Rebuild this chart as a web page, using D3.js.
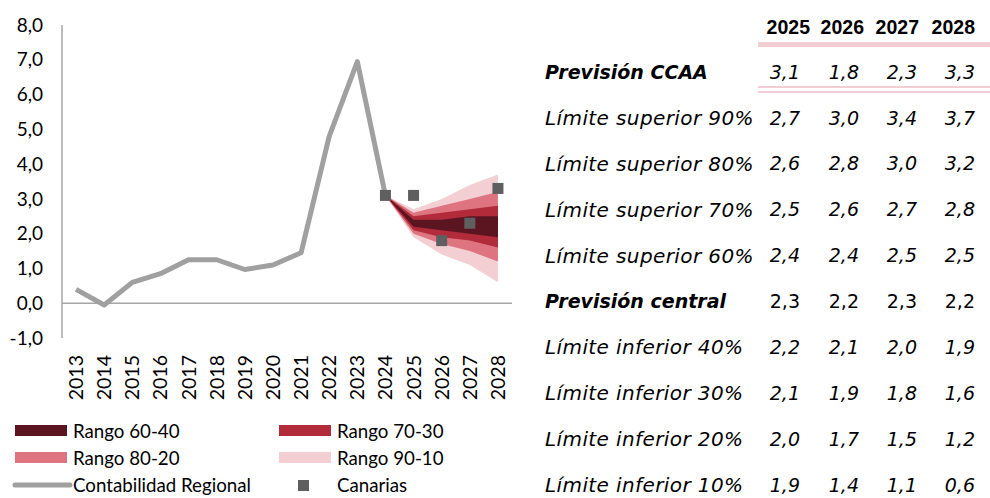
<!DOCTYPE html>
<html>
<head>
<meta charset="utf-8">
<script src="https://cdn.jsdelivr.net/npm/d3@7"></script>
<style>
  body { margin: 0; background: #fff; }
  svg { display: block; }
</style>
</head>
<body>
<div id="chart"></div>
<script>
// historic series
const years = ['2013','2014','2015','2016','2017','2018','2019','2020','2021','2022','2023','2024','2025','2026','2027','2028'];
const histYears = ['2013','2014','2015','2016','2017','2018','2019','2020','2021','2022','2023','2024'];
const contabilidadRegional = [0.4, -0.05, 0.6, 0.85, 1.25, 1.25, 0.97, 1.1, 1.45, 4.8, 6.95, 3.1];

// Canarias points (2024 actual + forecast)
const canariasYears = ['2024','2025','2026','2027','2028'];
const canarias = [3.1, 3.1, 1.8, 2.3, 3.3];

// fan chart (2024 = anchor value)
const fanYears = ['2024','2025','2026','2027','2028'];
const sup90 = [3.1, 2.7, 3.0, 3.4, 3.7];
const sup80 = [3.1, 2.6, 2.8, 3.0, 3.2];
const sup70 = [3.1, 2.5, 2.6, 2.7, 2.8];
const sup60 = [3.1, 2.4, 2.4, 2.5, 2.5];
const central = [3.1, 2.3, 2.2, 2.3, 2.2];
const inf40 = [3.1, 2.2, 2.1, 2.0, 1.9];
const inf30 = [3.1, 2.1, 1.9, 1.8, 1.6];
const inf20 = [3.1, 2.0, 1.7, 1.5, 1.2];
const inf10 = [3.1, 1.9, 1.4, 1.1, 0.6];

const yTicks = [-1, 0, 1, 2, 3, 4, 5, 6, 7, 8];

// table
const tableYears = ['2025','2026','2027','2028'];
const prevCCAA = [3.1, 1.8, 2.3, 3.3];
const tableRows = [
  { label: 'Límite superior 90%', values: sup90.slice(1) },
  { label: 'Límite superior 80%', values: sup80.slice(1) },
  { label: 'Límite superior 70%', values: sup70.slice(1) },
  { label: 'Límite superior 60%', values: sup60.slice(1) },
  { label: 'Previsión central', values: central.slice(1), bold: true },
  { label: 'Límite inferior 40%', values: inf40.slice(1) },
  { label: 'Límite inferior 30%', values: inf30.slice(1) },
  { label: 'Límite inferior 20%', values: inf20.slice(1) },
  { label: 'Límite inferior 10%', values: inf10.slice(1) }
];

const bandColors = {
  '90-10': '#f3cfd4',
  '80-20': '#de7480',
  '70-30': '#b12b3b',
  '60-40': '#5b1520'
};
const lineColor = '#a0a0a0';
const pointColor = '#5f5f5f';
const axisColor = '#a6a6a6';
const pink = '#f2cdd3';

const W = 990, H = 498;
const svg = d3.select('#chart').append('svg')
  .attr('width', W)
  .attr('height', H);

const fmt = v => d3.format('.1f')(v).replace('.', ',').replace('\u2212', '-');

// scales
const x = d3.scaleBand().domain(years).range([62, 512]);
const xc = d => x(d) + x.bandwidth() / 2;
const y = d3.scaleLinear().domain([-1, 8]).range([338, 25]);

const chartFont = 'Lato, "Open Sans", sans-serif';

// y axis line
svg.append('line')
  .attr('x1', 62).attr('x2', 62)
  .attr('y1', y(8)).attr('y2', y(-1))
  .attr('stroke', axisColor).attr('stroke-width', 1.5);

// y tick labels
svg.append('g').selectAll('text')
  .data(yTicks)
  .enter().append('text')
  .attr('x', 43)
  .attr('y', d => y(d))
  .attr('dy', '0.35em')
  .attr('text-anchor', 'end')
  .attr('font-family', chartFont)
  .attr('font-size', 19)
  .attr('fill', '#000')
  .text(d => fmt(d));

// x axis at zero
svg.append('line')
  .attr('x1', 62).attr('x2', 512)
  .attr('y1', y(0)).attr('y2', y(0))
  .attr('stroke', axisColor).attr('stroke-width', 1.5);

// x tick labels, rotated
svg.append('g').selectAll('text')
  .data(years)
  .enter().append('text')
  .attr('transform', d => `translate(${xc(d) + 7},355) rotate(-90)`)
  .attr('text-anchor', 'end')
  .attr('font-family', chartFont)
  .attr('font-size', 19.5)
  .attr('fill', '#000')
  .text(d => d);

// fan bands
const bands = [
  { key: '90-10', hi: sup90, lo: inf10 },
  { key: '80-20', hi: sup80, lo: inf20 },
  { key: '70-30', hi: sup70, lo: inf30 },
  { key: '60-40', hi: sup60, lo: inf40 }
];
const area = d3.area()
  .x(d => xc(d.year))
  .y0(d => y(d.lo))
  .y1(d => y(d.hi));

svg.append('g').selectAll('path')
  .data(bands)
  .enter().append('path')
  .attr('d', b => area(fanYears.map((yr, i) => ({ year: yr, hi: b.hi[i], lo: b.lo[i] }))))
  .attr('fill', b => bandColors[b.key]);

// historic line
const line = d3.line()
  .x(d => xc(d.year))
  .y(d => y(d.v));
svg.append('path')
  .datum(histYears.map((yr, i) => ({ year: yr, v: contabilidadRegional[i] })))
  .attr('d', line)
  .attr('fill', 'none')
  .attr('stroke', lineColor)
  .attr('stroke-width', 5)
  .attr('stroke-linejoin', 'round');

// Canarias points
const ps = 11;
svg.append('g').selectAll('rect')
  .data(canariasYears.map((yr, i) => ({ year: yr, v: canarias[i] })))
  .enter().append('rect')
  .attr('x', d => xc(d.year) - ps / 2)
  .attr('y', d => y(d.v) - ps / 2)
  .attr('width', ps).attr('height', ps)
  .attr('fill', pointColor);

// legend
const legendItems = [
  { label: 'Rango 60-40', type: 'band', color: bandColors['60-40'], col: 0, row: 0 },
  { label: 'Rango 70-30', type: 'band', color: bandColors['70-30'], col: 1, row: 0 },
  { label: 'Rango 80-20', type: 'band', color: bandColors['80-20'], col: 0, row: 1 },
  { label: 'Rango 90-10', type: 'band', color: bandColors['90-10'], col: 1, row: 1 },
  { label: 'Contabilidad Regional', type: 'line', color: lineColor, col: 0, row: 2 },
  { label: 'Canarias', type: 'point', color: pointColor, col: 1, row: 2 }
];
const legendX = [15, 279];
const legendY = [431, 458, 485];
const lg = svg.append('g').selectAll('g')
  .data(legendItems)
  .enter().append('g')
  .attr('transform', d => `translate(${legendX[d.col]},${legendY[d.row]})`);

lg.filter(d => d.type === 'band').append('rect')
  .attr('x', 0).attr('y', -6).attr('width', 52).attr('height', 11)
  .attr('fill', d => d.color);
lg.filter(d => d.type === 'line').append('line')
  .attr('x1', 0).attr('x2', 55).attr('y1', 0).attr('y2', 0)
  .attr('stroke', d => d.color).attr('stroke-width', 5)
  .attr('stroke-linecap', 'round');
lg.filter(d => d.type === 'point').append('rect')
  .attr('x', 19).attr('y', -5).attr('width', 11).attr('height', 11)
  .attr('fill', d => d.color);
lg.append('text')
  .attr('x', 58)
  .attr('y', 0)
  .attr('dy', '0.35em')
  .attr('font-family', chartFont)
  .attr('font-size', 18.7)
  .attr('fill', '#000')
  .text(d => d.label);

// table
const tableFont = '"DejaVu Sans", sans-serif';
const colRight = [810, 864, 919, 975];
const valRight = [800, 859, 917, 975];
const labelX = 545;

svg.append('g').selectAll('text')
  .data(tableYears)
  .enter().append('text')
  .attr('x', (d, i) => colRight[i])
  .attr('y', 27)
  .attr('dy', '0.35em')
  .attr('text-anchor', 'end')
  .attr('font-family', '"Liberation Sans", Arial, sans-serif')
  .attr('font-weight', 'bold')
  .attr('font-size', 19.5)
  .attr('fill', '#000')
  .text(d => d);

svg.append('rect')
  .attr('x', 758).attr('y', 42).attr('width', W - 758).attr('height', 5)
  .attr('fill', pink);

svg.append('rect')
  .attr('x', 758).attr('y', 86).attr('width', W - 758).attr('height', 2)
  .attr('fill', pink);
svg.append('rect')
  .attr('x', 758).attr('y', 91).attr('width', W - 758).attr('height', 2)
  .attr('fill', pink);

const allRows = [{ label: 'Previsión CCAA', values: prevCCAA, bold: true }].concat(tableRows);
const rowY = d3.scaleLinear().domain([0, allRows.length - 1]).range([72, 485]);

const tr = svg.append('g').selectAll('g')
  .data(allRows)
  .enter().append('g')
  .attr('transform', (d, i) => `translate(0,${rowY(i)})`);

tr.append('text')
  .attr('x', labelX)
  .attr('dy', '0.35em')
  .attr('font-family', tableFont)
  .attr('font-style', 'italic')
  .attr('font-weight', d => d.bold ? 'bold' : 'normal')
  .attr('font-size', d => d.bold ? 19 : 20)
  .attr('letter-spacing', d => d.bold ? 0 : 0.4)
  .attr('fill', '#000')
  .text(d => d.label);

tr.selectAll('text.v')
  .data(d => d.values.map(v => ({ v, italic: d.label !== 'Previsión central' })))
  .enter().append('text')
  .attr('class', 'v')
  .attr('x', (d, i) => valRight[i])
  .attr('dy', '0.35em')
  .attr('text-anchor', 'end')
  .attr('font-family', tableFont)
  .attr('font-style', d => d.italic ? 'italic' : 'normal')
  .attr('font-size', 19)
  .attr('fill', '#000')
  .text(d => fmt(d.v));
</script>
</body>
</html>
